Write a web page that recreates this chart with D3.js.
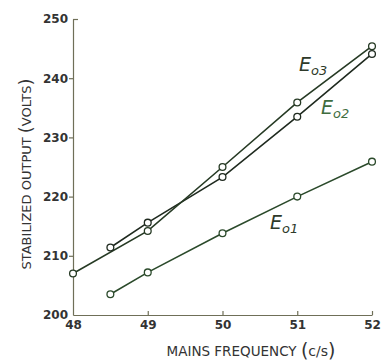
<!DOCTYPE html>
<html>
<head>
<meta charset="utf-8">
<script src="https://cdn.jsdelivr.net/npm/d3@7"></script>
<style>
  html, body { margin: 0; padding: 0; background: #ffffff; }
  svg { display: block; }
  text { font-family: "DejaVu Sans", sans-serif; }
</style>
</head>
<body>
<svg id="chart" width="384" height="363"></svg>
<script>
// Mains frequency (c/s) and stabilized output voltage for the three outputs
const freqEo1 = [48.5, 49, 50, 51, 52];
const voltsEo1 = [203.5, 207.2, 213.8, 220.0, 225.9];

const freqEo2 = [48.5, 49, 50, 51, 52];
const voltsEo2 = [211.4, 215.6, 223.3, 233.5, 244.1];

const freqEo3 = [48, 49, 50, 51, 52];
const voltsEo3 = [207.0, 214.2, 225.0, 235.9, 245.4];

const xTicks = [48, 49, 50, 51, 52];
const yTicks = [200, 210, 220, 230, 240, 250];

const svg = d3.select("#chart");

const x = d3.scaleLinear().domain([48, 52]).range([73, 372]);
const y = d3.scaleLinear().domain([200, 250]).range([315, 19]);

const axisColor = "#6f6f58";
const textColor = "#333333";

// Axes
const xAxis = svg.append("g")
  .attr("transform", `translate(0,${y(200)})`)
  .call(d3.axisBottom(x).tickValues(xTicks).tickSizeInner(-4).tickSizeOuter(0).tickFormat(d3.format("d")));
xAxis.select(".domain").attr("stroke", axisColor).attr("stroke-width", 1.2);
xAxis.selectAll(".tick line").attr("stroke", axisColor).attr("stroke-width", 1.2)
  .filter(d => d === 48).remove();
xAxis.selectAll(".tick text")
  .attr("fill", textColor).attr("font-size", 12).attr("font-weight", "bold")
  .attr("dy", "0.95em").attr("y", 3);

const yAxis = svg.append("g")
  .attr("transform", `translate(${x(48)},0)`)
  .call(d3.axisLeft(y).tickValues(yTicks).tickSizeInner(4).tickSizeOuter(0).tickFormat(d3.format("d")));
yAxis.select(".domain").attr("stroke", axisColor).attr("stroke-width", 1.2);
yAxis.selectAll(".tick line").attr("stroke", axisColor).attr("stroke-width", 1.2)
  .filter(d => d === 200 || d === 250).remove();
yAxis.selectAll(".tick")
  .filter(d => d === 250)
  .append("line").attr("x1", 0).attr("x2", 5)
  .attr("stroke", axisColor).attr("stroke-width", 1.2);
yAxis.selectAll(".tick text")
  .attr("fill", textColor).attr("font-size", 12).attr("font-weight", "bold")
  .attr("x", -5);

// Axis titles
const xTitle = svg.append("text")
  .attr("x", 251).attr("y", 356)
  .attr("text-anchor", "middle")
  .attr("fill", textColor).attr("font-size", 13.5);
xTitle.append("tspan").text("MAINS FREQUENCY ");
xTitle.append("tspan").attr("font-size", 19).attr("dy", 1).text("(");
xTitle.append("tspan").attr("font-size", 14).attr("dy", -1).text("c/s");
xTitle.append("tspan").attr("font-size", 19).attr("dy", 1).text(")");

const yTitle = svg.append("text")
  .attr("transform", "translate(31,174) rotate(-90)")
  .attr("text-anchor", "middle")
  .attr("fill", textColor).attr("font-size", 13);
yTitle.append("tspan").text("STABILIZED OUTPUT ");
yTitle.append("tspan").attr("font-size", 18).attr("dy", 1).text("(");
yTitle.append("tspan").attr("font-size", 13).attr("dy", -1).text("VOLTS");
yTitle.append("tspan").attr("font-size", 18).attr("dy", 1).text(")");

// Series lines and markers
const series = [
  { f: freqEo1, v: voltsEo1, color: "#2b4a2b" },
  { f: freqEo2, v: voltsEo2, color: "#1f2a1f" },
  { f: freqEo3, v: voltsEo3, color: "#263a24" }
];

const line = d3.line().x(d => x(d[0])).y(d => y(d[1]));

series.forEach(s => {
  const pts = s.f.map((f, i) => [f, s.v[i]]);
  svg.append("path")
    .attr("d", line(pts))
    .attr("fill", "none")
    .attr("stroke", s.color)
    .attr("stroke-width", 1.6);
});

series.forEach(s => {
  const pts = s.f.map((f, i) => [f, s.v[i]]);
  svg.selectAll(null).data(pts).enter().append("circle")
    .attr("cx", d => x(d[0])).attr("cy", d => y(d[1]))
    .attr("r", 3.4)
    .attr("fill", "#ffffff")
    .attr("stroke", s.color)
    .attr("stroke-width", 1.3);
});

// Curve labels
function curveLabel(px, py, sub, color) {
  const t = svg.append("text")
    .attr("x", px).attr("y", py)
    .attr("fill", color)
    .attr("font-style", "italic")
    .attr("font-size", 19);
  t.append("tspan").text("E");
  t.append("tspan").attr("font-size", 13).attr("dy", 4).text(sub);
}
curveLabel(299, 71, "o3", "#2e3a2a");
curveLabel(321, 114, "o2", "#3f6d3f");
curveLabel(270, 229, "o1", "#2e3a2a");
</script>
</body>
</html>
